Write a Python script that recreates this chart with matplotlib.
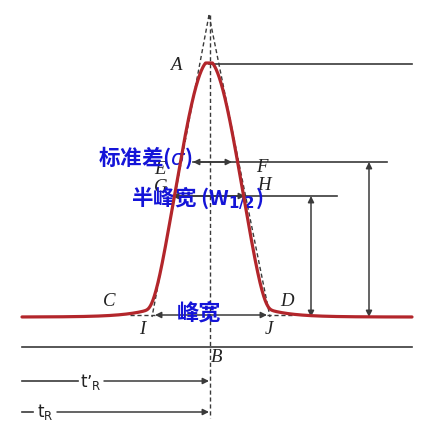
import numpy as np
import matplotlib
matplotlib.use("Agg")
import matplotlib.pyplot as plt

# peak description (pixel units of the drawing)
t_r = 209          # retention position (peak centre)
baseline = 317     # baseline level
peak_top = 63      # apex level A
peak_sigma = 29    # gaussian width of the peak
tail_cut = 57      # where the flanks drop to baseline
tail_len = 25      # length of the slow tail near C and D
sigma_x = (193, 232)      # E-F arrow ends (inflection)
half_x = (172, 245)       # G-H arrow ends (half height)
base_x = (155, 267)       # I-J (peak width on baseline)
level_ef = 162
level_gh = 196
x_range = (22, 412)

point_labels = ["A", "E", "F", "G", "H", "C", "D", "I", "J", "B"]
point_pos = [(176, 66), (160, 169), (262, 167), (161, 187), (264, 186),
             (109, 301), (287, 301), (142, 329), (269, 329), (217, 358)]

red = "#b3262b"
ink = "#3a3a3a"
blue = "#1414d8"

fig = plt.figure(figsize=(4.3, 4.38), dpi=100)
ax = fig.add_axes([0, 0, 1, 1])
ax.set_xlim(0, 430)
ax.set_ylim(438, 0)
ax.axis("off")

# chromatographic peak
x = np.linspace(x_range[0], x_range[1], 1500)
d = np.abs(x - t_r)
h = baseline - peak_top
core = np.exp(-d ** 2 / (2 * peak_sigma ** 2) - (d / tail_cut) ** 7)
tail = 0.02 * np.exp(-(d - 69) / tail_len)
shape = np.minimum((core ** 3 + tail ** 3) ** (1 / 3), 1.0)
y = baseline - h * shape
ax.plot(x, y, color=red, lw=2.3, zorder=5, solid_capstyle="round")

# tangent lines and centre line (dashed)
apex = (t_r, 15)
ax.plot([apex[0], base_x[0] - 3], [apex[1], baseline], ls=(0, (3, 2)), color=ink, lw=1)
ax.plot([apex[0], base_x[1] + 3], [apex[1], baseline], ls=(0, (3, 2)), color=ink, lw=1)
ax.plot([t_r + 1, t_r + 1], [apex[1], 418], ls=(0, (3, 2)), color=ink, lw=1)
ax.plot([130, base_x[0]], [baseline - 2, baseline - 2], ls=(0, (3, 2)), color=ink, lw=1)
ax.plot([base_x[1], 292], [baseline - 2, baseline - 2], ls=(0, (3, 2)), color=ink, lw=1)

# horizontal reference lines
ax.plot([t_r, x_range[1]], [peak_top + 1, peak_top + 1], color=ink, lw=1.2)
ax.plot([sigma_x[0], 387], [level_ef, level_ef], color=ink, lw=1.2)
ax.plot([half_x[0], 337], [level_gh, level_gh], color=ink, lw=1.2)
ax.plot([x_range[0], x_range[1]], [347, 347], color=ink, lw=1.2)

arr = dict(arrowstyle="-|>", color=ink, lw=1.1, mutation_scale=9, shrinkA=0, shrinkB=0)
darr = dict(arrowstyle="<|-|>", color=ink, lw=1.1, mutation_scale=9, shrinkA=0, shrinkB=0)

# sigma and half width arrows
for xe in sigma_x:
    ax.annotate("", xy=(xe, level_ef), xytext=(t_r, level_ef), arrowprops=arr)
for xe in half_x:
    ax.annotate("", xy=(xe, level_gh), xytext=(t_r, level_gh), arrowprops=arr)
# peak width arrows
ax.annotate("", xy=(base_x[0], baseline - 2), xytext=(t_r, baseline - 2), arrowprops=arr)
ax.annotate("", xy=(base_x[1], baseline - 2), xytext=(t_r, baseline - 2), arrowprops=arr)

# height arrows on the right
ax.annotate("", xy=(311, level_gh), xytext=(311, baseline), arrowprops=darr)
ax.annotate("", xy=(369, level_ef), xytext=(369, baseline), arrowprops=darr)

# retention time arrows
ax.plot([22, 78], [381, 381], color=ink, lw=1.2)
ax.annotate("", xy=(t_r, 381), xytext=(104, 381), arrowprops=arr)
ax.text(91, 382, "t\u2019$_\\mathregular{R}$", fontsize=12, ha="center", va="center",
        family="DejaVu Sans", color="#222222")
ax.plot([22, 33], [412, 412], color=ink, lw=1.2)
ax.annotate("", xy=(t_r, 412), xytext=(57, 412), arrowprops=arr)
ax.text(45, 412, "t$_\\mathregular{R}$", fontsize=12, ha="center", va="center",
        family="DejaVu Sans", color="#222222")

# point letters
for lab, (px, py) in zip(point_labels, point_pos):
    ax.text(px, py, lab, fontsize=13.5, style="italic", family="Liberation Serif",
            ha="center", va="center", color="#222222", zorder=2)

# blue annotations
cjk = ["Noto Sans CJK SC", "DejaVu Sans"]
ax.text(145, 158, r"标准差($\sigma$)", fontsize=15.5, fontweight="bold", family=cjk,
        color=blue, ha="center", va="center", zorder=4)
ax.text(197, 198, r"半峰宽 (W$_{\mathbf{1/2}}$)", fontsize=15.5, fontweight="bold", family=cjk,
        color=blue, ha="center", va="center", zorder=4)
ax.text(199, 313, "峰宽", fontsize=16, fontweight="bold", family=cjk,
        color=blue, ha="center", va="center", zorder=4)

fig.savefig("out.png", dpi=100)
